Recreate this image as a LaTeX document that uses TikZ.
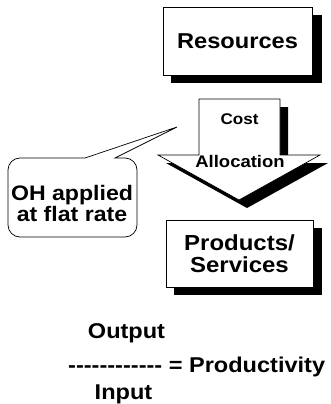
\documentclass[tikz,border=0pt]{standalone}
\usepackage{fontspec}
\setmainfont{Liberation Sans}[FakeStretch=1.1]
\newfontfamily\rawfont{Liberation Sans}[FakeStretch=1.1, Ligatures=TeXOff]
\usetikzlibrary{calc}
\tikzset{
  label font/.style={font=\bfseries\fontsize{#1}{#1}\selectfont},
  card/.style={draw=black, line width=0.8pt, fill=white, inner sep=0pt, align=center},
  shadowbox/.style={fill=black},
  outline/.style={draw=black, line width=0.7pt, fill=white},
}
\begin{document}
\begin{tikzpicture}[x=1pt,y=1pt]
\useasboundingbox (0,0) rectangle (330,-404);

% --- Resources box with drop shadow
\fill[shadowbox] (171,-15) rectangle (322,-83);
\node[card, minimum width=149pt, minimum height=68pt, label font=21.5] (res) at (237.5,-41) {Resources};

% --- Cost allocation block arrow (shadow first)
\fill[shadowbox, shift={(8,-8)}]
  (199,-99) -- (280,-99) -- (280,-155) -- (320,-155) -- (239,-200) -- (158,-155) -- (199,-155) -- cycle;
\draw[outline]
  (199,-99) -- (280,-99) -- (280,-155) -- (320,-155) -- (239,-200) -- (158,-155) -- (199,-155) -- cycle;
\node[label font=15.5, anchor=base] (cost) at (239.5,-124) {Cost};
\node[label font=16.8, anchor=base] (alloc) at (240,-167.5) {Allocation};

% --- Products/Services box with drop shadow
\fill[shadowbox] (174,-228) rectangle (322,-295);
\node[card, minimum width=147pt, minimum height=67pt, label font=21.8] (prod) at (239.5,-253.5)
  {\fontsize{21.8}{27}\selectfont Products/\\Services};

% --- Callout balloon
\draw[outline]
  (85,-158) -- (20,-158) arc[start angle=90, end angle=180, radius=12]
  -- (8,-225) arc[start angle=180, end angle=270, radius=12]
  -- (125,-237) arc[start angle=270, end angle=360, radius=12]
  -- (137,-170) arc[start angle=0, end angle=90, radius=12]
  -- (115,-158) -- (177,-127) -- cycle;
\node[align=center, inner sep=0pt, label font=21] (oh) at (72,-203)
  {\fontsize{21}{24}\selectfont OH applied\\at flat rate};

% --- Productivity formula
\node[anchor=base, inner sep=0pt, label font=21.4] (out) at (126.5,-338) {Output};
\node[anchor=base west, inner sep=0pt, label font=21.4] (eq) at (68,-372) {\rawfont\bfseries ------------ = Productivity};
\node[anchor=base, inner sep=0pt, label font=21.4] (inp) at (123.5,-399) {Input};
\end{tikzpicture}
\end{document}
